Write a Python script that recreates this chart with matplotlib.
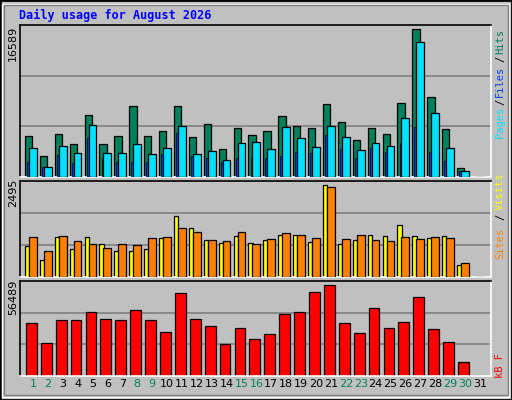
import matplotlib
matplotlib.use("Agg")
import matplotlib.pyplot as plt
from matplotlib.patches import Rectangle
import numpy as np

days = list(range(1, 32))
hits = [4579,2327,4804,3678,6943,3678,4579,7957,4579,5142,7957,4466,5930,3115,5480,4691,5142,6831,5705,5480,8182,6155,4129,5480,4804,8295,16589,8970,5367,976,0]
files = [3228,1088,3453,2665,5817,2665,2665,3678,2552,3228,5705,2552,2890,1877,3791,3903,3115,5592,4354,3340,5705,4466,3003,3791,3453,6606,15163,7169,3228,638,0]
pages = [1651,1088,2440,1539,4354,2102,1651,1651,1651,2552,4917,2327,2102,1651,2102,2102,2102,2327,2777,2665,4691,3115,2102,3228,2777,3791,5592,2777,1764,638,0]
visits = [847,468,1090,766,1090,901,712,712,766,1063,1657,1333,1009,928,1117,928,1009,1144,1144,955,2495,901,1009,1144,1117,1414,1117,1063,1117,333,0]
sites = [1090,712,1117,982,901,793,901,874,1063,1090,1333,1225,1009,982,1225,901,1036,1198,1144,1063,2441,1036,1144,1009,982,1090,1036,1090,1063,387,0]
kbytes = [32985,20616,34840,34840,39790,35460,34840,41027,34840,27420,51540,35460,31130,19998,29893,23090,26182,38552,39790,52159,56489,32985,26801,42263,29893,33604,49066,29275,21235,8865,0]
weekend = [1,2,8,9,15,16,22,23,29,30]
title = "Daily usage for August 2026"

BG = "#C0C0C0"
W, H = 512, 400
fig = plt.figure(figsize=(5.12, 4.0), dpi=100, facecolor=BG)
mono = "DejaVu Sans Mono"

def fx(x): return x / W
def fy(y): return 1 - y / H

# bevel border
fig.patches.append(Rectangle((0, 0), 1, 1, transform=fig.transFigure, fill=False, ec="black", lw=2))
fig.patches.append(Rectangle((fx(2), fy(397)), fx(507), 393 / H, transform=fig.transFigure, fill=False, ec="white", lw=1))
fig.patches.append(Rectangle((fx(4), fy(395)), fx(504), 390 / H, transform=fig.transFigure, fill=False, ec="#808080", lw=1))

x = np.array(days, dtype=float)
xl = (0.128, 31.74)

def mkax(top, bottom):
    ax = fig.add_axes([fx(20), fy(bottom), fx(471), (bottom - top) / H])
    ax.set_facecolor(BG)
    ax.set_xlim(*xl)
    for s in ("top", "left"):
        ax.spines[s].set_color("black")
    for s in ("bottom", "right"):
        ax.spines[s].set_color("white")
    for s in ax.spines.values():
        s.set_linewidth(1.2)
    ax.set_yticks([]); ax.set_xticks([])
    return ax

def grid(ax, top):
    for f in (1/3, 2/3):
        ax.axhline(top * f, color="#808080", lw=1.2, zorder=0)

ek = dict(edgecolor="black", linewidth=0.9, align="edge")

ax1 = mkax(25, 177)
t1 = max(hits) * 152 / 147.7
ax1.set_ylim(0, t1); grid(ax1, t1)
ax1.bar(x - 0.54, hits, width=0.49, color="#00805C", zorder=2, **ek)
ax1.bar(x - 0.40, pages, width=0.13, color="#0040FF", zorder=3, edgecolor="black", linewidth=0.5, align="edge")
ax1.bar(x - 0.27, files, width=0.52, color="#00E0FF", zorder=4, **ek)

ax2 = mkax(181, 277)
t2 = max(visits) * 96 / 92.3
ax2.set_ylim(0, t2); grid(ax2, t2)
ax2.bar(x - 0.54, visits, width=0.29, color="#FFFF00", zorder=2, **ek)
ax2.bar(x - 0.27, sites, width=0.52, color="#FF8000", zorder=3, **ek)

ax3 = mkax(281, 376)
t3 = max(kbytes) * 95 / 91.4
ax3.set_ylim(0, t3); grid(ax3, t3)
ax3.bar(x - 0.47, kbytes, width=0.72, color="#FF0000", zorder=2, **ek)

ax3.set_xticks(days)
ax3.set_xticklabels([str(d) for d in days], fontsize=8, family="DejaVu Sans")
ax3.tick_params(axis="x", length=0, pad=2)
for lab, d in zip(ax3.get_xticklabels(), days):
    lab.set_color("#00805C" if d in weekend else "black")

fig.text(fx(19), fy(15), title, color="#0000FF", fontsize=8.5, family=mono, weight="bold", va="center", ha="left")

# left max labels
for yc, txt in ((43, f"{max(hits)}"), (193, f"{max(visits)}"), (297, f"{max(kbytes)}")):
    fig.text(fx(13), fy(yc), txt, rotation=90, fontsize=8, family="DejaVu Sans", ha="center", va="center")

def rlabel(pieces):
    for yc, txt, col in pieces:
        fig.text(fx(500), fy(yc), txt, rotation=90, fontsize=7.5, family=mono, color=col, ha="center", va="center")

rlabel([(122, "Pages", "#00E0FF"), (102, "/", "black"), (81, "Files", "#0040FF"),
        (59, "/", "black"), (41, "Hits", "#00805C")])
rlabel([(243, "Sites", "#FF8000"), (217, "/", "black"), (191, "Visits", "#FFFF00")])
rlabel([(365, "kB F", "#FF0000")])

fig.savefig("out.png", dpi=100, facecolor=BG)
